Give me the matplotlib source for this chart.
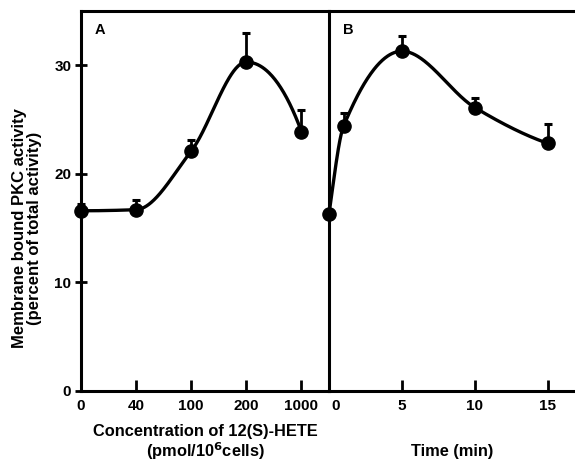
import numpy as np
import matplotlib
matplotlib.use("Agg")
import matplotlib.pyplot as plt
import matplotlib.transforms as mtransforms

plt.rcParams['font.family'] = ['Liberation Sans', 'DejaVu Sans']
plt.rcParams['font.weight'] = 'bold'

# Panel A data
conc_labels = ["0", "40", "100", "200", "1000"]
conc_pos = [0, 1, 2, 3, 4]
a_values = [16.6, 16.7, 22.1, 30.3, 23.9]
a_err = [0.6, 0.9, 1.0, 2.7, 2.0]

# Panel B data
time_min = [0, 1, 5, 10, 15]
b_values = [16.3, 24.4, 31.3, 26.1, 22.8]
b_err = [0.0, 1.2, 1.4, 0.9, 1.8]
time_ticks = [0, 5, 10, 15]

y_ticks = [0, 10, 20, 30]


def pchip(x, y, xn):
    x = np.asarray(x, float); y = np.asarray(y, float)
    h = np.diff(x); d = np.diff(y) / h
    n = len(x); m = np.zeros(n)
    for k in range(1, n - 1):
        if d[k - 1] * d[k] > 0:
            w1 = 2 * h[k] + h[k - 1]; w2 = h[k] + 2 * h[k - 1]
            m[k] = (w1 + w2) / (w1 / d[k - 1] + w2 / d[k])
    m[0] = ((2 * h[0] + h[1]) * d[0] - h[0] * d[1]) / (h[0] + h[1])
    if np.sign(m[0]) != np.sign(d[0]):
        m[0] = 0
    m[-1] = ((2 * h[-1] + h[-2]) * d[-1] - h[-1] * d[-2]) / (h[-1] + h[-2])
    if np.sign(m[-1]) != np.sign(d[-1]):
        m[-1] = 0
    out = np.empty_like(xn)
    for i, xv in enumerate(xn):
        k = min(np.searchsorted(x, xv, side='right') - 1, n - 2)
        k = max(k, 0)
        t = (xv - x[k]) / h[k]
        h00 = 2*t**3 - 3*t**2 + 1; h10 = t**3 - 2*t**2 + t
        h01 = -2*t**3 + 3*t**2; h11 = t**3 - t**2
        out[i] = h00*y[k] + h10*h[k]*m[k] + h01*y[k+1] + h11*h[k]*m[k+1]
    return out


W, H = 575, 463
fig = plt.figure(figsize=(W / 100, H / 100), dpi=100)
left_px, div_px, right_px = 81, 329, 575
top_px, bot_px = 11, 391
axA = fig.add_axes([left_px / W, 1 - bot_px / H, (div_px - left_px) / W, (bot_px - top_px) / H])
axB = fig.add_axes([div_px / W, 1 - bot_px / H, (right_px - div_px) / W, (bot_px - top_px) / H])

lw_spine = 2.2
for ax in (axA, axB):
    for s in ax.spines.values():
        s.set_linewidth(lw_spine)
    ax.set_ylim(0, 35)
axA.spines['right'].set_visible(False)
axB.spines['right'].set_visible(False)

# Panel A
axA.set_xlim(0, 4.5)
xs = np.linspace(0, 4, 300)
axA.plot(xs, pchip(conc_pos, a_values, xs), color='black', lw=2.4, clip_on=False, zorder=3)
axA.errorbar(conc_pos, a_values, yerr=[np.zeros(len(a_err)), a_err], fmt='none',
             ecolor='black', elinewidth=2.0, capsize=3.2, capthick=2.2, clip_on=False, zorder=3)
axA.plot(conc_pos, a_values, 'o', color='black', ms=9.5, clip_on=False, zorder=4)
axA.set_xticks(conc_pos)
axA.set_xticklabels(conc_labels)
axA.set_yticks(y_ticks)
axA.tick_params(axis='x', direction='in', length=8, width=2, labelsize=11, pad=6)
axA.tick_params(axis='y', direction='inout', length=8, width=2, labelsize=11, pad=3)
axA.xaxis.get_major_ticks()[0].tick1line.set_visible(False)
axA.set_xlabel("Concentration of 12(S)-HETE\n(pmol/10$^{\\mathbf{6}}$cells)", fontsize=11.8,
               fontweight='bold', labelpad=8, linespacing=1.05)
axA.text(0.055, 0.95, "A", transform=axA.transAxes, fontsize=10.5, fontweight='bold',
         ha='left', va='center')

# Panel B
axB.set_xlim(0, 16.85)
ts = np.linspace(0, 15, 400)
axB.plot(ts, pchip(time_min, b_values, ts), color='black', lw=2.4, clip_on=False, zorder=3)
axB.errorbar(time_min[1:], b_values[1:], yerr=[np.zeros(len(b_err) - 1), b_err[1:]], fmt='none',
             ecolor='black', elinewidth=2.0, capsize=3.2, capthick=2.2, clip_on=False, zorder=3)
axB.plot(time_min, b_values, 'o', color='black', ms=9.5, clip_on=False, zorder=4)
axB.set_xticks(time_ticks)
axB.set_yticks([])
axB.tick_params(axis='x', direction='in', length=8, width=2, labelsize=11, pad=6)
axB.xaxis.get_major_ticks()[0].tick1line.set_visible(False)
lab0 = axB.get_xticklabels()[0]
lab0.set_transform(lab0.get_transform() + mtransforms.ScaledTranslation(7 / 100, 0, fig.dpi_scale_trans))
axB.set_xlabel("Time (min)", fontsize=11.8, fontweight='bold', labelpad=22)
axB.text(0.055, 0.95, "B", transform=axB.transAxes, fontsize=10.5, fontweight='bold',
         ha='left', va='center')

fig.text(27 / W, 1 - 228 / H, "Membrane bound PKC activity\n(percent of total activity)",
         rotation=90, ha='center', va='center', multialignment='center',
         fontsize=12, fontweight='bold', linespacing=1.05)

fig.savefig("out.png", dpi=100)
